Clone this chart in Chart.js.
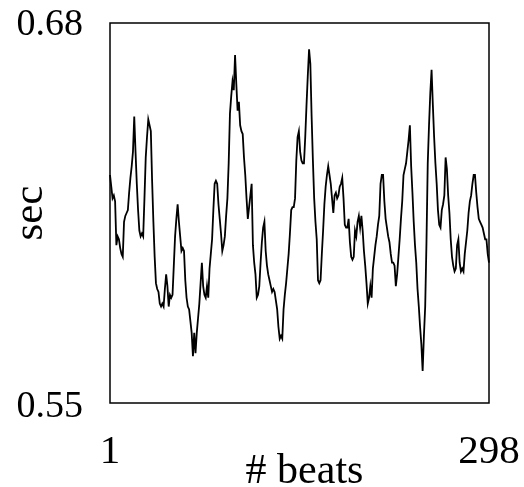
<!DOCTYPE html>
<html>
<head>
<meta charset="utf-8">
<script src="https://cdn.jsdelivr.net/npm/chart.js@4"></script>
<style>
  html, body { margin: 0; padding: 0; background: #fff; }
  #wrap { width: 524px; height: 487px; }
</style>
</head>
<body>
<div id="wrap"><canvas id="c" width="524" height="487"></canvas></div>
<script>
// RR intervals (sec), one per beat
const rrIntervals = [
  0.628, 0.624, 0.620, 0.621, 0.619, 0.604, 0.607, 0.606, 0.603, 0.601,
  0.600, 0.612, 0.614, 0.615, 0.616, 0.622, 0.627, 0.631, 0.636, 0.648,
  0.636, 0.625, 0.616, 0.609, 0.607, 0.608, 0.607, 0.620, 0.634, 0.641,
  0.647, 0.645, 0.643, 0.626, 0.612, 0.600, 0.591, 0.589, 0.588, 0.584,
  0.583, 0.584, 0.583, 0.589, 0.594, 0.590, 0.583, 0.587, 0.586, 0.587,
  0.597, 0.607, 0.613, 0.618, 0.612, 0.607, 0.602, 0.603, 0.602, 0.592,
  0.586, 0.583, 0.582, 0.578, 0.574, 0.566, 0.574, 0.567, 0.574, 0.579,
  0.584, 0.591, 0.598, 0.590, 0.587, 0.586, 0.590, 0.586, 0.596, 0.601,
  0.606, 0.616, 0.625, 0.626, 0.625, 0.618, 0.613, 0.608, 0.602, 0.604,
  0.607, 0.614, 0.620, 0.632, 0.649, 0.655, 0.660, 0.657, 0.669, 0.659,
  0.650, 0.653, 0.645, 0.643, 0.642, 0.634, 0.628, 0.620, 0.613, 0.617,
  0.621, 0.625, 0.604, 0.598, 0.594, 0.586, 0.587, 0.590, 0.598, 0.605,
  0.610, 0.612, 0.602, 0.597, 0.594, 0.592, 0.590, 0.588, 0.589, 0.588,
  0.585, 0.582, 0.576, 0.572, 0.573, 0.572, 0.582, 0.587, 0.591, 0.596,
  0.601, 0.608, 0.616, 0.617, 0.617, 0.620, 0.633, 0.641, 0.643, 0.636,
  0.633, 0.632, 0.632, 0.641, 0.652, 0.662, 0.671, 0.666, 0.648, 0.633,
  0.620, 0.612, 0.606, 0.592, 0.591, 0.592, 0.601, 0.609, 0.618, 0.624,
  0.628, 0.631, 0.628, 0.625, 0.620, 0.615, 0.621, 0.622, 0.620, 0.621,
  0.624, 0.625, 0.627, 0.620, 0.611, 0.610, 0.610, 0.613, 0.605, 0.600,
  0.599, 0.600, 0.609, 0.607, 0.612, 0.614, 0.610, 0.614, 0.609, 0.602,
  0.597, 0.591, 0.584, 0.586, 0.590, 0.586, 0.596, 0.600, 0.604, 0.607,
  0.611, 0.614, 0.625, 0.628, 0.628, 0.619, 0.613, 0.610, 0.607, 0.605,
  0.601, 0.598, 0.598, 0.597, 0.590, 0.594, 0.600, 0.606, 0.613, 0.619,
  0.628, 0.630, 0.632, 0.636, 0.640, 0.645, 0.631, 0.622, 0.612, 0.604,
  0.598, 0.589, 0.583, 0.576, 0.570, 0.561, 0.573, 0.583, 0.605, 0.632,
  0.645, 0.656, 0.664, 0.652, 0.641, 0.632, 0.625, 0.616, 0.611, 0.610,
  0.616, 0.618, 0.621, 0.634, 0.630, 0.621, 0.615, 0.606, 0.600, 0.597,
  0.595, 0.596, 0.604, 0.606, 0.598, 0.595, 0.596, 0.595, 0.601, 0.605,
  0.609, 0.615, 0.619, 0.621, 0.625, 0.628, 0.628, 0.622, 0.617, 0.613,
  0.612, 0.611, 0.610, 0.608, 0.606, 0.606, 0.601, 0.598
];
const beatNumbers = rrIntervals.map((v, i) => i + 1);

const yTicks = [0.55, 0.68];
const yTickLabels = ['0.55', '0.68'];
const xTicks = [1, 298];
const xTickLabels = ['1', '298'];
const xTitle = '# beats';
const yTitle = 'sec';

const SERIF = '"Liberation Serif", "Times New Roman", serif';

// box + hand placed labels like the original figure
const labelsPlugin = {
  id: 'labels',
  afterDraw(chart) {
    const ctx = chart.ctx;
    const a = chart.chartArea;
    const xs = chart.scales.x, ys = chart.scales.y;
    ctx.save();
    ctx.strokeStyle = '#000';
    ctx.lineWidth = 1.5;
    ctx.strokeRect(a.left, a.top, a.right - a.left, a.bottom - a.top);

    ctx.fillStyle = '#000';
    ctx.textBaseline = 'alphabetic';
    ctx.font = '38px ' + SERIF;
    ctx.textAlign = 'right';
    ctx.fillText(yTickLabels[1], a.left - 27, ys.getPixelForValue(yTicks[1]) + 12);
    ctx.fillText(yTickLabels[0], a.left - 27, ys.getPixelForValue(yTicks[0]) + 14);

    ctx.font = '41px ' + SERIF;
    ctx.textAlign = 'center';
    ctx.fillText(xTickLabels[0], xs.getPixelForValue(xTicks[0] - 1), a.bottom + 60);
    ctx.fillText(xTickLabels[1], xs.getPixelForValue(xTicks[1] - 1), a.bottom + 60);

    ctx.font = '42px ' + SERIF;
    ctx.fillText(xTitle, (a.left + a.right) / 2 + 5, a.bottom + 80);

    ctx.font = '43px ' + SERIF;
    ctx.translate(42, (a.top + a.bottom) / 2);
    ctx.rotate(-Math.PI / 2);
    ctx.fillText(yTitle, 0, 0);
    ctx.restore();
  }
};

new Chart(document.getElementById('c'), {
  type: 'line',
  data: {
    labels: beatNumbers,
    datasets: [{
      data: rrIntervals,
      borderColor: '#000',
      borderWidth: 1.8,
      pointRadius: 0,
      tension: 0,
      fill: false
    }]
  },
  options: {
    responsive: false,
    animation: false,
    layout: { padding: { left: 110, top: 23, right: 35, bottom: 84 } },
    plugins: {
      legend: { display: false },
      tooltip: { enabled: false }
    },
    scales: {
      x: { type: 'category', offset: false, display: false },
      y: { min: yTicks[0], max: yTicks[1], display: false }
    }
  },
  plugins: [labelsPlugin]
});
</script>
</body>
</html>
